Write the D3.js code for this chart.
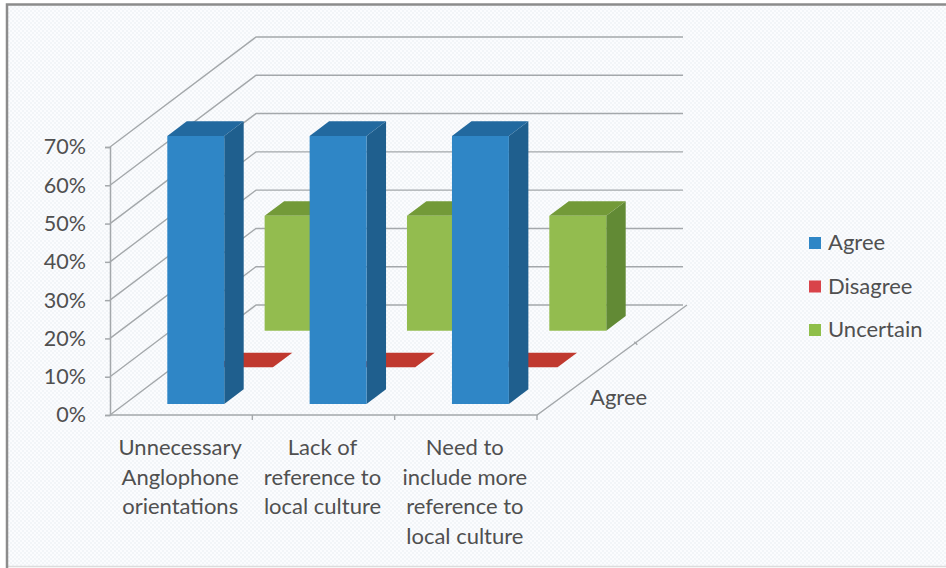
<!DOCTYPE html>
<html>
<head>
<meta charset="utf-8">
<script src="https://cdn.jsdelivr.net/npm/d3@7"></script>
<style>
  html, body { margin: 0; padding: 0; background: #fff; }
  svg { display: block; }
  text { font-family: Lato, "Open Sans", sans-serif; fill: #505050; }
</style>
</head>
<body>
<svg id="chart" width="946" height="568"></svg>
<script>
// Values
const categories = ["Unnecessary Anglophone orientations", "Lack of reference to local culture", "Need to include more reference to local culture"];
const categoryLines = [
  ["Unnecessary", "Anglophone", "orientations"],
  ["Lack of", "reference to", "local culture"],
  ["Need to", "include more", "reference to", "local culture"]
];
const series = ["Agree", "Disagree", "Uncertain"];
const agree = [70, 70, 70];
const disagree = [0, 0, 0];
const uncertain = [30, 30, 30];
const yTicks = [0, 10, 20, 30, 40, 50, 60, 70];

const seriesValues = { Agree: agree, Disagree: disagree, Uncertain: uncertain };
const front = { Agree: "#2f86c6", Disagree: "#c0392f", Uncertain: "#93bc4f" };
const side = { Agree: "#1f5f8e", Disagree: "#8f2a22", Uncertain: "#628a35" };
const top_ = { Agree: "#22699f", Disagree: "#c0392f", Uncertain: "#739a38" };
const legendColor = { Agree: "#2f86c6", Disagree: "#d9434a", Uncertain: "#8fbf4a" };

const svg = d3.select("#chart");

// paper texture + frame
const defs = svg.append("defs");
const pat = defs.append("pattern").attr("id", "dots")
  .attr("width", 4).attr("height", 4).attr("patternUnits", "userSpaceOnUse");
pat.append("rect").attr("width", 4).attr("height", 4).attr("fill", "#fbfcfe");
pat.append("circle").attr("cx", 1).attr("cy", 1).attr("r", 1).attr("fill", "#eff3f6");
pat.append("circle").attr("cx", 3).attr("cy", 3).attr("r", 1).attr("fill", "#eff3f6");

svg.append("rect").attr("x", 7).attr("y", 4).attr("width", 939).attr("height", 562)
  .attr("fill", "url(#dots)");
svg.append("line").attr("x1", 7).attr("x2", 946).attr("y1", 566.5).attr("y2", 566.5)
  .attr("stroke", "#dcdcdc").attr("stroke-width", 1.5);
svg.append("path").attr("d", "M7,568V4.5H946").attr("fill", "none")
  .attr("stroke", "#8c8c8c").attr("stroke-width", 2.5);

// scales, the depth one goes from front (0) to back (1)
const x = d3.scaleBand().domain(categories).range([110, 537]).paddingInner(0.6).paddingOuter(0.3);
const xEdge = d3.scaleBand().domain(categories).range([110, 537]);
const y = d3.scaleLinear().domain([0, 70]).range([415, 147]);
const depth = d3.scaleBand().domain(series).range([0, 1]).paddingInner(0.6).paddingOuter(0.3);
const depthX = d3.scaleLinear().domain([0, 1]).range([0, 146]);
const depthY = d3.scaleLinear().domain([0, 1]).range([0, -110]);

const gridColor = "#a4a8ab";

// walls
const grid = svg.append("g").attr("fill", "none").attr("stroke", gridColor).attr("stroke-width", 1.4);
yTicks.forEach(function(t) {
  grid.append("path").attr("d", d3.line()([
    [110, y(t)],
    [110 + depthX(1), y(t) + depthY(1)],
    [537 + depthX(1), y(t) + depthY(1)]
  ]));
});
// floor edges
grid.append("path").attr("d", d3.line()([[110, y(0)], [537, y(0)], [537 + depthX(1) + 4, y(0) + depthY(1)]]));

// ticks along the front and depth edges
xEdge.domain().forEach(function(c) {
  const px = xEdge(c) + xEdge.bandwidth();
  grid.append("line").attr("x1", px).attr("x2", px).attr("y1", y(0)).attr("y2", y(0) + 5);
});
[2 / 3].forEach(function(d) {
  const px = 537 + depthX(d), py = y(0) + depthY(d);
  grid.append("line").attr("x1", px).attr("x2", px + 3).attr("y1", py).attr("y2", py + 3);
});

// y axis
const yAxis = svg.append("g").attr("transform", "translate(110,0)")
  .call(d3.axisLeft(y).tickValues(yTicks).tickSize(5).tickPadding(19).tickFormat(d => d + "%"));
yAxis.selectAll("path, line").attr("stroke", gridColor).attr("stroke-width", 1.5);
yAxis.selectAll("text").style("font-family", "Lato").style("font-size", "21.5px").attr("fill", "#505050");

// bars, back row first so nearer ones cover it
const bars = svg.append("g");
series.slice().reverse().forEach(function(s) {
  const d0 = depth(s), d1 = d0 + depth.bandwidth();
  categories.forEach(function(c, i) {
    const v = seriesValues[s][i];
    const xl = x(c), xr = xl + x.bandwidth();
    // projects a point of the box on to the page
    const p = (px, val, d) => [px + depthX(d), y(val) + depthY(d)];
    const poly = pts => d3.line()(pts) + "Z";
    const g = bars.append("g");
    g.append("path").attr("fill", side[s])
      .attr("d", poly([p(xr, 0, d0), p(xr, 0, d1), p(xr, v, d1), p(xr, v, d0)]));
    g.append("path").attr("fill", top_[s])
      .attr("d", poly([p(xl, v, d0), p(xr, v, d0), p(xr, v, d1), p(xl, v, d1)]));
    g.append("path").attr("fill", front[s])
      .attr("d", poly([p(xl, 0, d0), p(xr, 0, d0), p(xr, v, d0), p(xl, v, d0)]));
  });
});

// category labels
categories.forEach(function(c, i) {
  const t = svg.append("text").attr("text-anchor", "middle").style("font-size", "22px");
  categoryLines[i].forEach(function(line, j) {
    t.append("tspan").attr("x", x(c) + x.bandwidth() / 2 - 1).attr("y", 455 + j * 29.7).text(line);
  });
});

// depth axis label
svg.append("text").attr("x", 590).attr("y", 405).style("font-size", "22px").text(series[0]);

// legend
const legendY = d3.scalePoint().domain(series).range([243, 330]);
series.forEach(function(s) {
  svg.append("rect").attr("x", 809).attr("y", legendY(s) - 6).attr("width", 12).attr("height", 12)
    .attr("fill", legendColor[s]);
  svg.append("text").attr("x", 828).attr("y", legendY(s) + 7).style("font-size", "22px").text(s);
});
</script>
</body>
</html>
